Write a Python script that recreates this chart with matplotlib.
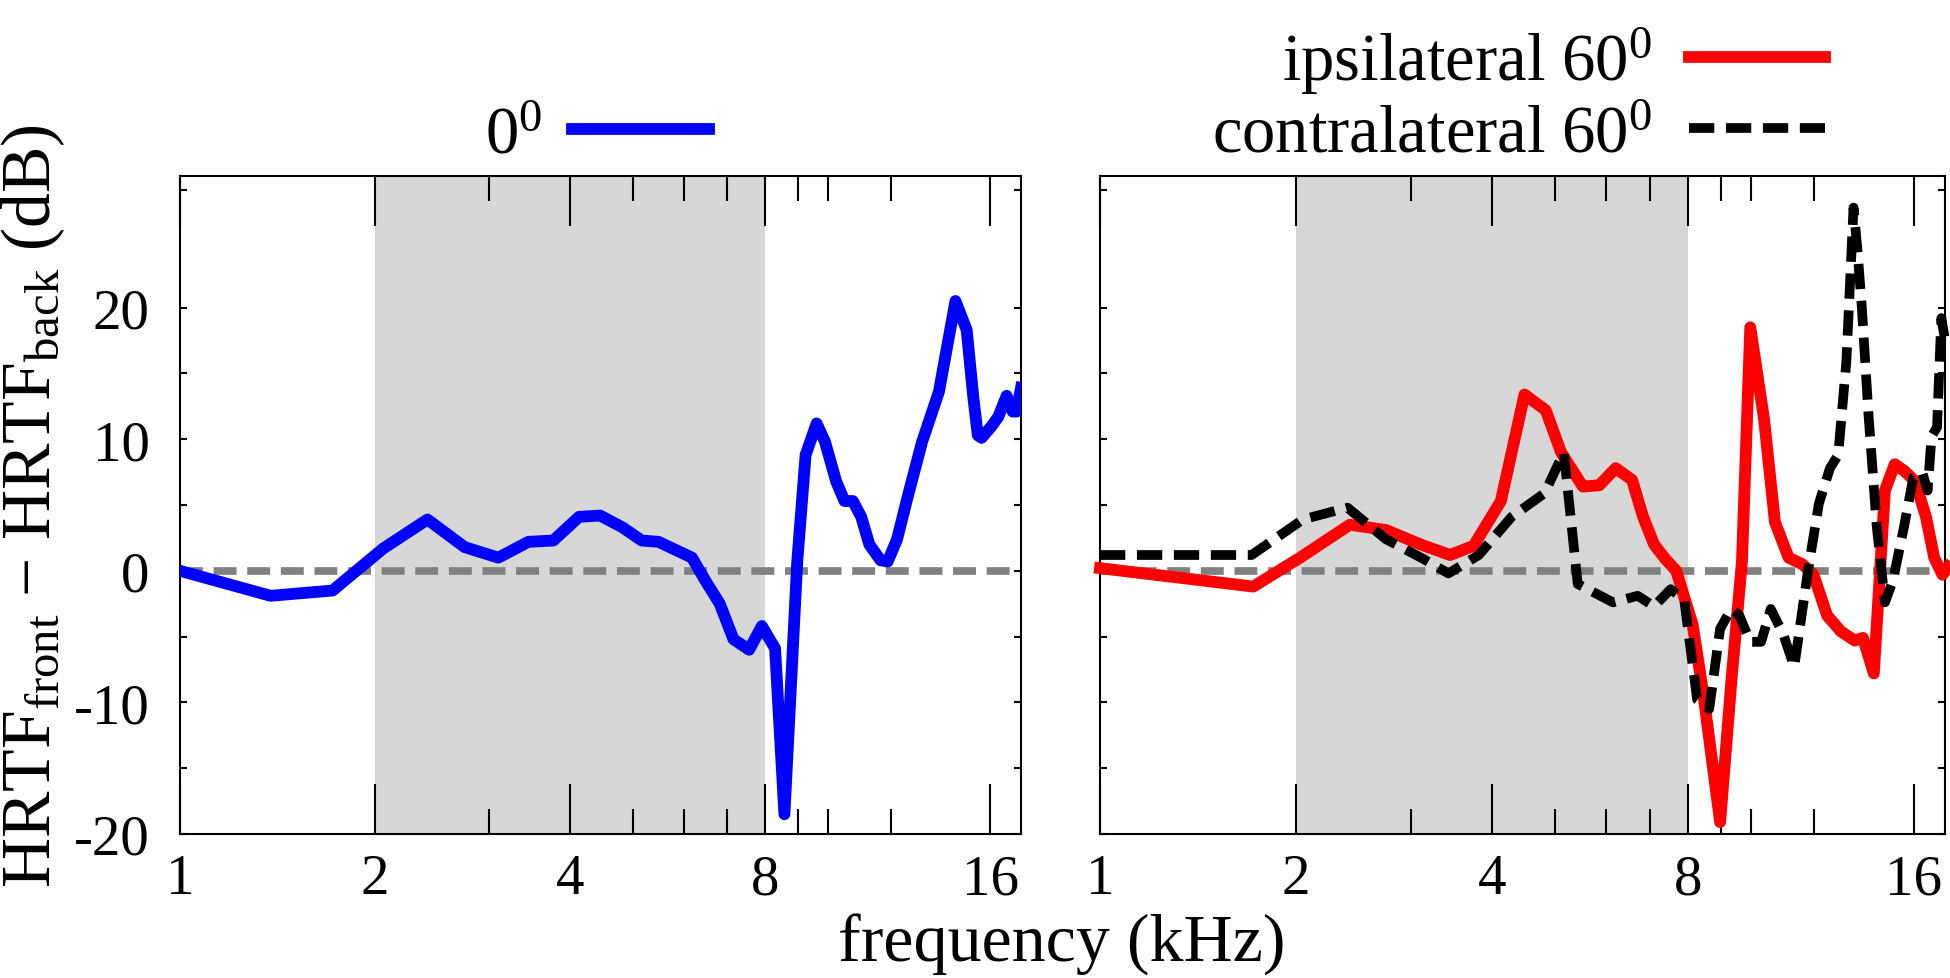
import numpy as np
import matplotlib.pyplot as plt
from matplotlib.ticker import FixedLocator, NullFormatter

plt.rcParams['font.family'] = ['Liberation Serif', 'DejaVu Serif']
plt.rcParams['mathtext.fontset'] = 'custom'
plt.rcParams['mathtext.rm'] = 'Liberation Serif'
plt.rcParams['mathtext.it'] = 'Liberation Serif:italic'
plt.rcParams['mathtext.default'] = 'regular'
plt.rcParams['axes.unicode_minus'] = False

# 0 deg (front - back), kHz / dB
freq_0 = [1.0, 1.38, 1.72, 2.06, 2.41, 2.75, 3.10, 3.45, 3.77, 4.13, 4.45, 4.82,
          5.16, 5.48, 6.17, 6.48, 6.81, 7.15, 7.56, 7.91, 8.29, 8.57, 8.97, 9.24,
          9.61, 9.90, 10.3, 10.61, 10.93, 11.26, 11.59, 12.06, 12.37, 12.79, 13.31,
          13.98, 14.84, 15.74, 16.38, 16.77, 17.04, 17.27, 17.9, 18.33, 18.88,
          19.29, 19.56, 19.87]
diff_0 = [0.0, -1.9, -1.5, 1.7, 3.9, 1.8, 1.0, 2.2, 2.3, 4.1, 4.2, 3.3,
          2.3, 2.2, 1.0, -0.8, -2.5, -5.2, -6.0, -4.2, -5.9, -18.5, 0.7, 8.8,
          11.2, 9.8, 6.8, 5.3, 5.3, 4.1, 2.0, 0.8, 0.7, 2.4, 5.8,
          9.8, 13.6, 20.5, 18.3, 13.2, 10.3, 10.1, 11.0, 11.7, 13.3,
          12.1, 12.1, 13.9]

# ipsilateral 60 deg
freq_ipsi = [1.0, 1.72, 2.03, 2.42, 2.75, 3.11, 3.45, 3.75, 4.13, 4.49, 4.84,
             5.11, 5.52, 5.85, 6.2, 6.57, 6.83, 7.1, 7.39, 7.68, 8.14, 8.46,
             8.97, 9.33, 9.69, 9.98, 10.48, 10.89, 11.43, 12.0, 12.48, 13.1,
             13.75, 14.44, 14.87, 15.45, 16.07, 16.64, 17.2, 17.88, 18.58,
             19.13, 19.7, 20.09]
diff_ipsi = [0.2, -1.2, 1.0, 3.5, 3.1, 2.0, 1.2, 1.9, 5.3, 13.4, 12.2,
             9.0, 6.4, 6.5, 7.8, 6.9, 4.1, 2.0, 0.9, 0.0, -4.1, -9.5,
             -19.1, -8.5, 0.7, 18.5, 11.5, 3.7, 1.0, 0.5, -0.3, -3.4,
             -4.6, -5.3, -5.1, -7.8, 6.1, 8.1, 7.6, 6.8, 4.1,
             1.0, -0.3, 0.3]

# contralateral 60 deg
freq_contra = [1.0, 1.71, 2.05, 2.4, 2.75, 3.14, 3.43, 3.82, 4.29, 4.82, 5.16,
               5.42, 6.14, 6.7, 7.1, 7.53, 7.9, 8.27, 8.63, 8.97, 9.33, 9.6,
               9.98, 10.37, 10.73, 11.21, 11.66, 12.24, 12.72, 13.23, 13.62,
               14.02, 14.38, 14.58, 14.81, 15.16, 15.61, 16.07, 16.54, 17.2,
               17.77, 18.33, 18.69, 18.95, 19.32, 19.62, 19.96]
diff_contra = [1.2, 1.2, 3.9, 4.8, 2.4, 0.9, -0.2, 1.2, 4.1, 5.9, 9.0,
               -1.0, -2.4, -1.9, -2.7, -1.4, -2.2, -9.8, -10.5, -4.4, -2.9, -3.4,
               -5.4, -5.4, -2.9, -4.8, -7.3, 0.0, 5.1, 7.8, 8.8,
               15.9, 27.6, 24.4, 20.0, 11.9, 3.4, -2.4, -0.7, 3.4,
               7.1, 7.5, 6.1, 10.2, 10.9, 19.2, 17.0]

xtick_pos = [1, 2, 4, 8, 17.8]
xtick_labels = ['1', '2', '4', '8', '16']
xminor_pos = [3, 5, 6, 7, 9, 10, 12.5]
ytick_pos = [-20, -10, 0, 10, 20]
yminor_pos = [-15, -5, 5, 15, 28.9]
band = (2, 8)
xlim = (1, 19.87)
ylim = (-20, 30)


def setup(ax, show_ylabels=True):
    ax.set_xscale('log', base=2)
    ax.set_xlim(xlim)
    ax.set_ylim(ylim)
    ax.axvspan(band[0], band[1], color='#d7d7d7', lw=0, zorder=0)
    ax.axhline(0, color='#808080', lw=5.5, dashes=(3.0, 1.4), zorder=1)
    ax.xaxis.set_major_locator(FixedLocator(xtick_pos))
    ax.set_xticklabels(xtick_labels)
    ax.xaxis.set_minor_locator(FixedLocator(xminor_pos))
    ax.xaxis.set_minor_formatter(NullFormatter())
    ax.set_yticks(ytick_pos)
    ax.set_yticks(yminor_pos, minor=True)
    ax.tick_params(axis='x', which='major', direction='in', length=36, width=1.5,
                   top=True, bottom=True, labelsize=41, pad=14)
    ax.tick_params(axis='x', which='minor', direction='in', length=18, width=1.5,
                   top=True, bottom=True)
    ax.tick_params(axis='y', which='both', direction='in', length=5, width=1.5,
                   left=True, right=True, labelsize=41, pad=22,
                   labelleft=show_ylabels)
    for s in ax.spines.values():
        s.set_linewidth(1.5)


fig = plt.figure(figsize=(19.5, 9.79), dpi=100)
ax1 = fig.add_axes([0.0923, 0.1471, 0.4313, 0.6721])
ax2 = fig.add_axes([0.5641, 0.1471, 0.4333, 0.6721])
setup(ax1)
setup(ax2, show_ylabels=False)

ax1.plot(freq_0, diff_0, color='blue', lw=8.5, label='0$^0$', zorder=3)
ax2.plot(freq_ipsi, diff_ipsi, color='red', lw=8.5, label='ipsilateral 60$^0$',
         zorder=3, clip_on=False)
ax2.plot(freq_contra, diff_contra, color='black', lw=7, dashes=(2.6, 1.2),
         label='contralateral 60$^0$', zorder=4, clip_on=False)

ax1.legend(loc='lower right', bbox_to_anchor=(0.3636, 0.829),
           bbox_transform=fig.transFigure, frameon=False, fontsize=48,
           markerfirst=False, handlelength=2.05, handletextpad=0.45,
           borderpad=0, borderaxespad=0)
ax2.legend(loc='lower right', bbox_to_anchor=(0.936, 0.83),
           bbox_transform=fig.transFigure, frameon=False, fontsize=48,
           markerfirst=False, handlelength=2.05, handletextpad=0.55,
           labelspacing=0.12, borderpad=0, borderaxespad=0)

fig.text(0.5446, 0.0174, 'frequency (kHz)', fontsize=49, ha='center', va='baseline')
fig.text(0.017, 0.483, r'HRTF$_{\mathrm{front}}$ \u2212 HRTF$_{\mathrm{back}}$ (dB)'.replace(r'\u2212', '\u2212'),
         fontsize=50, rotation=90, ha='center', va='center')

fig.savefig('out.png', dpi=100)
